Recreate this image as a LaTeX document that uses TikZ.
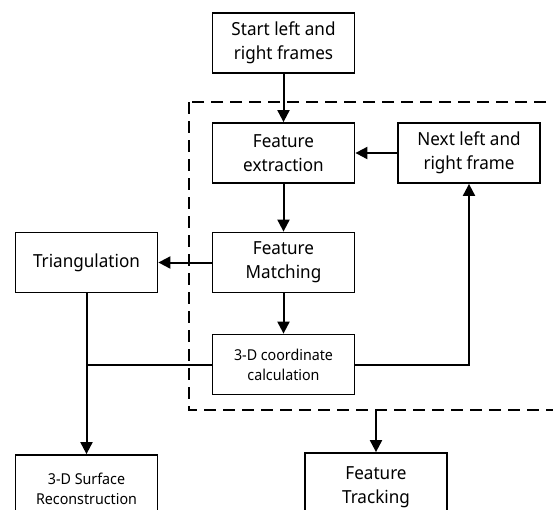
\documentclass[tikz,border=0pt]{standalone}
\usepackage{fontspec}
\setmainfont[FakeStretch=0.95]{Noto Sans}
\usetikzlibrary{arrows.meta}
\begin{document}
\begin{tikzpicture}[x=1pt,y=-1pt,
  box/.style={draw, line width=1.8pt, minimum width=142pt, minimum height=60pt,
    inner sep=0pt, align=center, font=\fontsize{18}{24}\selectfont},
  smallbox/.style={box, font=\fontsize{15}{20}\selectfont},
  flow/.style={line width=2pt, -{Triangle[length=12pt,width=12pt]}},
  link/.style={line width=2pt},
  group/.style={draw, line width=2pt, dash pattern=on 12pt off 7pt}]
\useasboundingbox (0,0) rectangle (553,509);
\clip (0,0) rectangle (553,509);
% feedback loop group
\draw[group] (189,102) rectangle (620,410);
\coordinate (gbot) at (376,410);
% process boxes
\node[box] (start) at (283.5,43) {Start left and\\right frames};
\node[box] (fe) at (283.5,153) {Feature\\extraction};
\node[box] (next) at (469,153) {Next left and\\right frame};
\node[box] (fm) at (283.5,262.5) {Feature\\Matching};
\node[box] (tri) at (86.5,262.5) {Triangulation};
\node[smallbox] (coord) at (283.5,364.5) {3-D coordinate\\calculation};
\node[smallbox, minimum height=68pt] (surf) at (86.5,489) {3-D Surface\\Reconstruction};
\node[box, minimum height=68pt] (track) at (376,487) {Feature\\Tracking};
\coordinate (join) at (tri.south |- coord.west);
% connectors
\draw[flow] (start) -- (fe);
\draw[flow] (next) -- (fe);
\draw[flow] (fe) -- (fm);
\draw[flow] (fm) -- (tri);
\draw[flow] (fm) -- (coord);
\draw[flow] (coord.east) -| (next.south);
\draw[link] (coord.west) -- (join);
\draw[flow] (tri.south) -- (surf.north);
\draw[flow] (gbot) -- (track.north);
\end{tikzpicture}
\end{document}
